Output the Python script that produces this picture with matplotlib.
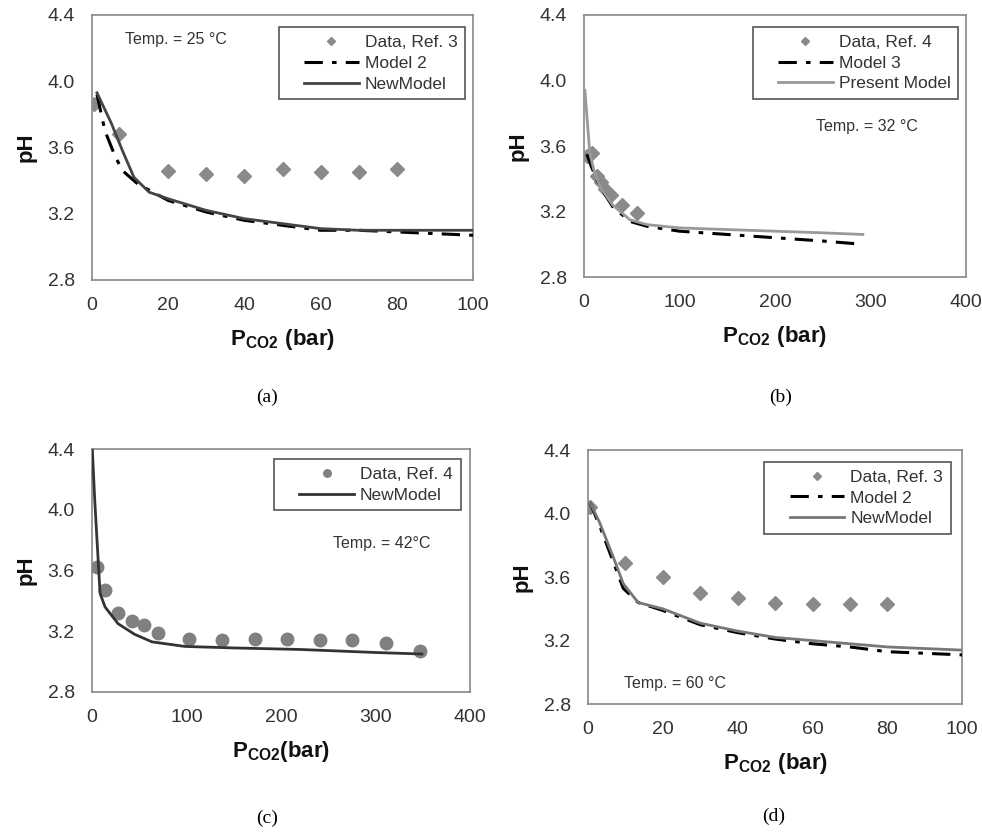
import matplotlib
matplotlib.use("Agg")
import matplotlib.pyplot as plt
from matplotlib.lines import Line2D
from matplotlib.legend_handler import HandlerLine2D

plt.rcParams["font.family"] = ["Liberation Sans", "DejaVu Sans"]
plt.rcParams["mathtext.fontset"] = "custom"
plt.rcParams["mathtext.rm"] = "Liberation Sans"
plt.rcParams["mathtext.bf"] = "Liberation Sans:bold"

# ---- panel (a): 25 C ----
a_data_x = [0.4, 7, 20, 30, 40, 50, 60, 70, 80]
a_data_y = [3.86, 3.68, 3.46, 3.44, 3.43, 3.47, 3.45, 3.45, 3.47]
a_m2_x = [1.3, 3.4, 6, 8, 12, 16, 20, 30, 40, 50, 60, 70, 80, 90, 100]
a_m2_y = [3.92, 3.70, 3.55, 3.46, 3.38, 3.33, 3.28, 3.21, 3.16, 3.13, 3.10, 3.10, 3.09, 3.08, 3.07]
a_new_x = [1.3, 5, 8, 11, 15, 20, 30, 40, 50, 60, 70, 80, 100]
a_new_y = [3.93, 3.75, 3.58, 3.42, 3.33, 3.29, 3.22, 3.17, 3.14, 3.11, 3.10, 3.10, 3.10]

# ---- panel (b): 32 C ----
b_data_x = [3, 8, 14, 18, 22, 28, 40, 56]
b_data_y = [3.54, 3.56, 3.42, 3.38, 3.34, 3.30, 3.24, 3.19]
b_m3_x = [3, 8, 17, 30, 48, 66, 100, 150, 200, 250, 292]
b_m3_y = [3.55, 3.47, 3.35, 3.23, 3.14, 3.11, 3.08, 3.06, 3.04, 3.02, 3.00]
b_new_x = [1, 6, 10, 17, 30, 48, 66, 100, 150, 200, 250, 292]
b_new_y = [3.94, 3.56, 3.46, 3.35, 3.24, 3.15, 3.12, 3.10, 3.09, 3.08, 3.07, 3.06]

# ---- panel (c): 42 C ----
c_data_x = [5, 14, 27, 42, 55, 70, 103, 138, 172, 206, 241, 275, 311, 347]
c_data_y = [3.62, 3.47, 3.32, 3.27, 3.24, 3.19, 3.15, 3.14, 3.15, 3.15, 3.14, 3.14, 3.12, 3.07]
c_new_x = [0.3, 3, 5.3, 8.5, 13.8, 27.5, 45, 63.5, 98, 150, 220, 300, 349]
c_new_y = [4.40, 4.05, 3.80, 3.45, 3.36, 3.25, 3.18, 3.13, 3.10, 3.09, 3.08, 3.06, 3.05]

# ---- panel (d): 60 C ----
d_data_x = [0.4, 10, 20, 30, 40, 50, 60, 70, 80]
d_data_y = [4.04, 3.69, 3.60, 3.50, 3.47, 3.44, 3.43, 3.43, 3.43]
d_m2_x = [0.5, 3, 6.7, 9.4, 13.4, 20, 30, 40, 50, 60, 70, 80, 90, 100]
d_m2_y = [4.07, 3.93, 3.70, 3.53, 3.44, 3.39, 3.30, 3.25, 3.21, 3.18, 3.16, 3.13, 3.12, 3.11]
d_new_x = [0.5, 3, 6.7, 9.4, 13.4, 20, 30, 40, 50, 60, 70, 80, 90, 100]
d_new_y = [4.07, 3.95, 3.73, 3.56, 3.44, 3.40, 3.31, 3.26, 3.22, 3.20, 3.18, 3.16, 3.15, 3.14]

yticks = [2.8, 3.2, 3.6, 4.0, 4.4]
TXT = "#333333"
DASHDOT = (0, (6, 3, 1.5, 3))


class ShiftedHandler(HandlerLine2D):
    # push the legend handle to the right, leaving a gap after the frame
    def create_artists(self, legend, orig_handle, xdescent, ydescent,
                       width, height, fontsize, trans):
        return super().create_artists(legend, orig_handle, xdescent - 1.0 * fontsize,
                                      ydescent, width, height, fontsize, trans)


def style_axes(ax, xmax, xstep, xlabel):
    ax.set_xlim(0, xmax)
    ax.set_ylim(2.8, 4.4)
    ax.set_xticks(range(0, xmax + 1, xstep))
    ax.set_yticks(yticks)
    ax.set_yticklabels([f"{v:.1f}" for v in yticks])
    ax.tick_params(length=0, labelsize=14, colors=TXT, pad=12.5)
    for s in ax.spines.values():
        s.set_color("#888888")
        s.set_linewidth(1.2)
    ax.set_ylabel("pH", fontsize=16, fontweight="bold", color="#111111", labelpad=8)
    ax.set_xlabel(xlabel, fontsize=16, color="#111111", labelpad=9)


def add_legend(ax, anchor):
    leg = ax.legend(loc="upper right", bbox_to_anchor=anchor, fontsize=12.5,
                    handlelength=3.15, handletextpad=1.35, markerscale=0.6,
                    fancybox=False, framealpha=1, edgecolor="#555555",
                    borderpad=0.45, labelspacing=0.33, borderaxespad=0,
                    handler_map={Line2D: ShiftedHandler()})
    leg.get_frame().set_linewidth(1.2)
    for t in leg.get_texts():
        t.set_color(TXT)


fig = plt.figure(figsize=(9.82, 8.32), dpi=100)
xlab = r"$\mathbf{P_{CO2}}$$\mathbf{\ (bar)}$"
xlab_c = r"$\mathbf{P_{CO2}}$$\mathbf{(bar)}$"
cap = dict(family="Liberation Serif", fontsize=14, ha="center", va="center")

# (a)
ax = fig.add_axes([0.0937, 0.6635, 0.388, 0.3185])
ax.plot(a_data_x, a_data_y, "D", color="#8a8a8a", ms=7, label="Data, Ref. 3", zorder=2)
ax.plot(a_m2_x, a_m2_y, color="black", lw=2.2, ls=DASHDOT, label="Model 2", zorder=3)
ax.plot(a_new_x, a_new_y, color="#444444", lw=2, label="NewModel", zorder=3)
style_axes(ax, 100, 20, xlab)
add_legend(ax, (0.98, 0.955))
ax.text(8.7, 4.25, "Temp. = 25 \u00b0C", fontsize=11.5, color=TXT, va="center")
fig.text(0.272, 0.523, "(a)", **cap)

# (b)
ax = fig.add_axes([0.5947, 0.667, 0.389, 0.315])
ax.plot(b_data_x, b_data_y, "D", color="#8a8a8a", ms=7, label="Data, Ref. 4", zorder=2)
ax.plot(b_m3_x, b_m3_y, color="black", lw=2.2, ls=DASHDOT, label="Model 3", zorder=3)
ax.plot(b_new_x, b_new_y, color="#999999", lw=2, label="Present Model", zorder=3)
style_axes(ax, 400, 100, xlab)
add_legend(ax, (0.98, 0.955))
ax.text(243, 3.72, "Temp. = 32 \u00b0C", fontsize=11.5, color=TXT, va="center")
fig.text(0.795, 0.523, "(b)", **cap)

# (c)
ax = fig.add_axes([0.0937, 0.1683, 0.385, 0.292])
ax.plot(c_data_x, c_data_y, "o", color="#808080", ms=9, label="Data, Ref. 4", zorder=2)
ax.plot(c_new_x, c_new_y, color="#333333", lw=2, label="NewModel", zorder=3)
style_axes(ax, 400, 100, xlab_c)
add_legend(ax, (0.975, 0.96))
ax.text(255, 3.775, "Temp. = 42\u00b0C", fontsize=11.5, color=TXT, va="center")
fig.text(0.272, 0.0168, "(c)", **cap)

# (d)
ax = fig.add_axes([0.5988, 0.1538, 0.381, 0.305])
ax.plot(d_data_x, d_data_y, "D", color="#8a8a8a", ms=7, label="Data, Ref. 3", zorder=2)
ax.plot(d_m2_x, d_m2_y, color="black", lw=2.2, ls=DASHDOT, label="Model 2", zorder=3)
ax.plot(d_new_x, d_new_y, color="#777777", lw=2, label="NewModel", zorder=3)
style_axes(ax, 100, 20, xlab)
add_legend(ax, (0.97, 0.955))
ax.text(9.6, 2.93, "Temp. = 60 \u00b0C", fontsize=11.5, color=TXT, va="center")
fig.text(0.788, 0.019, "(d)", **cap)

fig.savefig("out.png", dpi=100)
